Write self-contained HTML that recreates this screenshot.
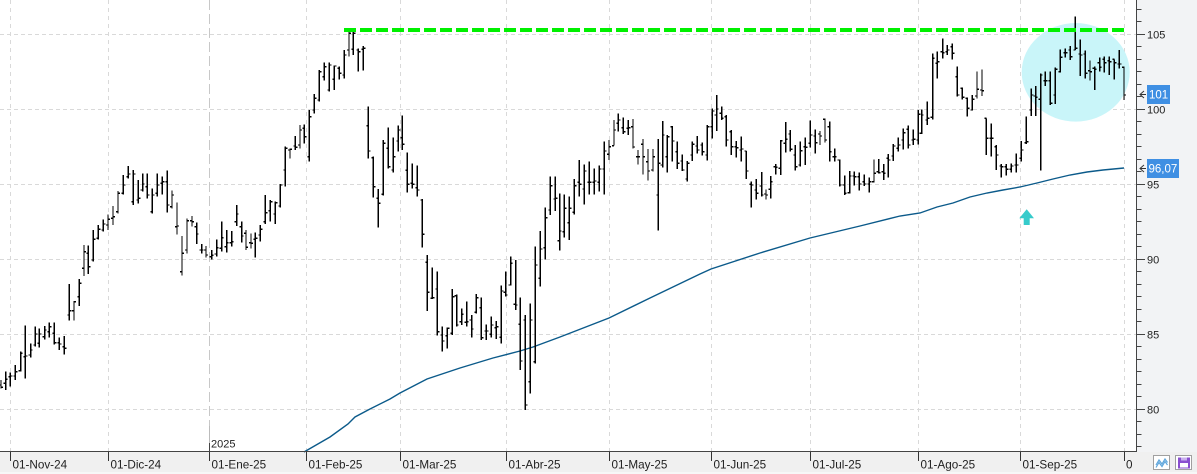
<!DOCTYPE html>
<html><head><meta charset="utf-8"><style>
html,body{margin:0;padding:0;background:#fff;}
svg{display:block;}
text{font-family:"Liberation Sans",sans-serif;}
</style></head><body>
<svg width="1197" height="474" viewBox="0 0 1197 474" xmlns="http://www.w3.org/2000/svg">
<rect x="0" y="0" width="1197" height="474" fill="#fff"/>
<!-- right panel -->
<rect x="1137" y="0" width="60" height="452" fill="#f2f3f5"/>
<!-- bottom strip -->
<rect x="0" y="452" width="1197" height="22" fill="#f0f0f0"/>
<rect x="0" y="472" width="1197" height="2" fill="#f7f7f7"/>

<!-- horizontal gridlines -->
<g stroke="#d9d9d9" stroke-width="1" stroke-dasharray="4 3" shape-rendering="crispEdges">
<path d="M0 34.5H1136M0 109.5H1136M0 184.5H1136M0 259.5H1136M0 334.5H1136M0 409.5H1136"/>
</g>
<!-- vertical gridlines -->
<g stroke="#d9d9d9" stroke-width="1" stroke-dasharray="4 4" shape-rendering="crispEdges">
<path d="M10.5 0V452M108.5 0V452M306.5 0V452M400.5 0V452M506.5 0V452M609.5 0V452M711.5 0V452M810.5 0V452M918.5 0V452M1020.5 0V452M1124.5 0V452"/>
</g>
<path d="M209.5 0V426" stroke="#c8c8c8" stroke-width="1" stroke-dasharray="10 4" shape-rendering="crispEdges"/>
<path d="M209.5 426V443" stroke="#bbbbbb" stroke-width="1" shape-rendering="crispEdges"/>
<path d="M209.5 443V452" stroke="#444" stroke-width="1" shape-rendering="crispEdges"/>
<text x="211" y="447.5" font-size="11" fill="#222">2025</text>

<!-- highlight circle -->
<ellipse cx="1075.7" cy="72.3" rx="54" ry="49.3" fill="#c9f5f9"/>

<!-- SMA -->
<polyline fill="none" stroke="#0b5a8a" stroke-width="1.4" points="304,452 330,437 348,424 355,417 370,409 390,399 400,393 427,379 460,368 493,358 520,351 533,347 560,337 609,318 650,298 700,274 711,269 760,253 810,238 860,226 900,216 920,213 937,207 953,203 970,197 987,193 1003,190 1020,187 1037,183 1053,179 1070,175 1087,172 1103,170 1124,168"/>

<!-- bars -->
<g fill="none" stroke="#000" stroke-width="4" shape-rendering="crispEdges">
<path transform="translate(0,150) scale(0.333333)" d="M3 690V715M-3 705H3M3 712H9M17 665V720M11 700H17M17 688H23M31 668V710M25 680H31M31 678H37M46 645V690M40 678H46M46 665H52M62 605V665M56 662H62M62 610H68M76 527V685M70 620H76M76 618H82M92 580V622M86 615H92M92 600H98M106 530V590M100 585H106M106 552H112M118 535V592M112 580H118M118 552H124M134 528V568M128 560H134M134 540H140M148 518V562M142 545H148M148 530H154M163 517V583M157 550H163M163 578H169M178 562V600M172 578H178M178 582H184M193 558V614M187 590H193M193 595H199M208 402V512M202 495H208M208 482H214M222 453V512M216 482H222M222 455H228M238 387V468M232 440H238M238 400H244M252 285V378M246 355H252M252 305H258M265 287V372M259 310H265M265 350H271M280 240V335M274 330H280M280 268H286M295 225V268M289 265H295M295 238H301M310 208V245M304 240H310M310 222H316M324 194V240M318 225H324M324 208H330M339 168V225M333 205H339M339 200H345M354 123V190M348 185H354M354 130H360M370 75V133M364 130H370M370 105H376M385 48V85M379 80H385M385 72H391M400 60V165M394 155H400M400 72H406M415 90V160M409 150H415M415 145H421M428 70V125M422 120H428M428 102H434M442 70V145M436 110H442M442 135H448M457 115V190M451 185H457M457 135H463M472 70V140M466 130H472M472 105H478M487 80V133M481 100H487M487 95H493M502 62V187M496 95H502M502 165H508M516 122V176M510 170H516M516 135H522M531 157V253M525 230H531M531 228H537M546 258V376M540 365H546M546 310H552M561 205V310M555 300H561M561 212H567M576 198V230M570 212H576M576 215H582M590 218V282M584 230H590M590 252H596"/>
<path transform="translate(200,20) scale(0.333333)" d="M5 672V700M-1 690H5M5 690H11M18 678V712M12 690H18M18 705H24M35 690V718M29 710H35M35 706H41M50 658V710M44 702H50M50 683H56M65 605V695M59 685H65M65 653H71M80 630V698M74 680H80M80 668H86M95 633V680M89 668H95M95 665H101M110 555V618M104 605H110M110 582H116M125 605V668M119 620H125M125 648H131M138 630V690M132 640H138M138 682H144M153 640V685M147 668H153M153 670H159M166 638V712M160 658H166M166 655H172M181 615V665M175 645H181M181 628H187M196 525V612M190 605H196M196 578H202M211 540V605M205 572H211M211 545H217M226 545V612M220 582H226M226 548H232M241 492V562M235 558H241M241 495H247M256 380V500M250 450H256M256 385H262M270 385V415M264 390H270M270 388H276M286 348V390M280 378H286M286 382H292M300 315V385M294 375H300M300 330H306M313 313V370M307 325H313M313 350H319M328 270V425M322 410H328M328 290H334M343 222V280M337 270H343M343 235H349M358 150V245M352 240H358M358 155H364M373 128V182M367 170H373M373 140H379M388 128V215M382 210H388M388 135H394M403 136V210M397 178H403M403 138H409M418 140V178M412 145H418M418 160H424M433 90V175M427 165H433M433 105H439M447 35V110M441 90H447M447 40H453M460 35V105M454 88H460M460 40H466M475 85V155M469 90H475M475 95H481M490 78V152M484 88H490M490 85H496"/>
<path transform="translate(360,95) scale(0.333333)" d="M25 35V190M19 92H25M25 168H31M40 185V308M34 188H40M40 275H46M55 282V398M49 310H55M55 325H61M70 135V302M64 298H70M70 145H76M85 98V220M79 160H85M85 215H91M100 128V232M94 225H100M100 185H106M115 92V170M109 138H115M115 105H121M127 62V165M121 128H127M127 148H133M142 173V293M136 226H142M142 268H148M157 205V280M151 265H157M157 268H163M172 212V305M166 278H172M172 285H178M187 312V458M181 315H187M187 418H193M202 480V648M196 502H202M202 592H208M217 518V612M211 610H217M217 608H223M232 530V722M226 582H232M232 710H238M247 695V770M241 720H247M247 738H253M262 698V760M256 722H262M262 700H268M277 582V720M271 715H277M277 605H283M290 598V695M284 602H290M290 690H296M305 640V690M299 680H305M305 658H311M320 620V695M314 682H320M320 680H326M335 660V728M329 675H335M335 702H341M349 597V655M343 652H349M349 608H355M364 608V735M358 638H364M364 728H370M379 688V735M373 708H379M379 708H385M394 665V728M388 718H394M394 690H400M409 678V732M403 698H409M409 695H415M424 572V745M418 727H424M424 588H430M437 530V605M431 592H437M437 600H443M452 485V572M446 570H452M452 505H458M467 495V645M461 628H467M467 630H473M481 608V825M475 688H481M481 798H487M496 660V945M490 675H496M496 930H502M511 626V895M505 860H511M511 675H517M526 455V805M520 800H526M526 510H532M541 408V575M535 550H541M541 462H547M556 338V493M550 458H556M556 368H562M571 245V360M565 345H571M571 272H577M586 245V348M580 312H586M586 310H592M599 296V467M593 437H599M599 408H605M613 298V428M607 410H613M613 340H619M628 305V435M622 383H628M628 340H634M643 252V358M637 352H643M643 272H649M658 195V305M652 262H658M658 268H664M673 208V328M667 282H673M673 228H679M688 200V298M682 262H688M688 262H694M703 220V298M697 262H703M703 258H709M718 212V290M712 262H718M718 222H724M733 140V298M727 222H733M733 168H739"/>
<path transform="translate(605,85) scale(0.333333)" d="M12 165V225M6 208H12M12 185H18M27 105V182M21 182H27M27 135H33M40 85V140M34 115H40M40 105H46M55 97V147M49 128H55M55 140H61M70 105V150M64 130H70M70 128H76M84 102V190M78 125H84M84 186H90M99 195V238M93 215H99M99 215H105M114 162V268M108 178H114M114 215H120M129 192V287M123 230H129M129 258H135M144 192V260M138 255H144M144 215H150M160 162V437M154 330H160M160 235H166M173 108V248M167 240H173M173 150H179M187 150V262M181 215H187M187 155H193M202 123V230M196 125H202M202 168H208M217 170V252M211 200H217M217 235H223M232 208V258M226 228H232M232 255H238M247 228V290M241 282H247M247 235H253M262 170V228M256 210H262M262 178H268M277 153V205M271 183H277M277 195H283M292 172V212M286 180H292M292 200H298M307 120V226M301 210H307M307 125H313M322 70V160M316 125H322M322 78H328M335 30V138M329 90H335M335 72H341M350 65V105M344 85H350M350 100H356M364 90V185M358 95H364M364 165H370M379 135V210M373 140H379M379 185H385M394 168V217M388 185H394M394 188H400M409 155V230M403 195H409M409 192H415M424 198V282M418 198H424M424 258H430M439 290V368M433 298H439M439 300H445M454 282V343M448 315H454M454 325H460"/>
<path transform="translate(760,30) scale(0.333333)" d="M5 426V500M-1 468H5M5 495H11M18 478V508M12 492H18M18 495H24M32 438V505M26 478H32M32 455H38M47 402V434M41 410H47M47 412H53M62 330V435M56 415H62M62 332H68M77 276V368M71 340H77M77 328H83M91 300V365M85 312H91M91 358H97M106 345V422M100 375H106M106 410H112M121 335V410M115 405H121M121 362H127M136 322V405M130 350H136M136 352H142M151 272V352M145 340H151M151 315H157M166 298V370M160 318H166M166 338H172M180 303V345M174 312H180M180 318H186M195 265V338M189 268H195M195 330H201M209 275V395M203 290H209M209 365H215M224 355V395M218 380H224M224 380H230M239 388V470M233 390H239M239 465H245M254 437V495M248 465H254M254 490H260M269 423V490M263 488H269M269 438H275M283 425V467M277 438H283M283 440H289M298 427V482M292 440H298M298 462H304M313 433V468M307 455H313M313 462H319M328 442V488M322 462H328M328 455H334M342 388V458M336 455H342M342 430H348M356 387V430M350 425H356M356 428H362M371 402V450M365 425H371M371 430H377M385 372V442M379 385H385M385 390H391M400 342V393M394 378H400M400 348H406M415 322V365M409 355H415M415 345H421M430 296V358M424 330H430M430 308H436M445 287V355M439 298H445M445 345H451M460 298V345M454 330H460M460 328H466M475 240V343M469 330H475M475 253H481"/>
<path transform="translate(920,10) scale(0.333333)" d="M5 298V372M-1 370H5M5 315H11M22 275V345M16 330H22M22 325H28M38 130V328M32 322H38M38 145H44M52 125V205M46 160H52M52 155H58M68 85V145M62 125H68M68 128H74M82 105V135M76 125H82M82 120H88M97 100V148M91 110H97M97 130H103M112 170V260M106 200H112M112 255H118M127 232V268M121 235H127M127 262H133M142 262V320M136 265H142M142 295H148M157 255V302M151 300H157M157 268H163M171 185V265M165 258H171M171 238H177M186 178V258M180 240H186M186 242H192M199 325V435M193 325H199M199 385H205M214 340V440M208 385H214M214 385H220M229 405V480M223 410H229M229 435H235M244 462V502M238 468H244M244 470H250M259 462V496M253 470H259M259 478H265M274 460V488M268 478H274M274 468H280M289 430V488M283 465H289M289 465H295M304 393V455M298 445H304M304 420H310M319 320V402M313 398H319M319 395H325M334 235V318M328 300H334M334 255H340M347 228V318M341 258H347M347 262H353M362 190V482M356 268H362M362 195H368M376 185V228M370 212H376M376 212H382M391 185V285M385 212H391M391 280H397M406 172V282M400 255H406M406 178H412M421 118V188M415 185H421M421 142H427M436 115V142M430 128H436M436 128H442M451 108V150M445 120H451M451 140H457M466 20V120M460 120H466M466 115H472M481 88V198M475 132H481M481 135H487M496 122V205M490 132H496M496 190H502M510 152V212M504 182H510M510 185H516M524 170V240M518 175H524M524 178H530M539 142V185M533 158H539M539 172H545M553 140V188M547 148H553M553 158H559M568 140V195M562 152H568M568 155H574M583 148V208M577 148H583M583 158H589M598 120V175M592 162H598M598 162H604M612 170V270M606 172H612M612 255H618"/>
</g>

<!-- green resistance line -->
<path d="M344 30H1128" stroke="#00f000" stroke-width="4" stroke-dasharray="12 4"/>

<!-- teal arrow -->
<polygon points="1026.7,209.3 1034,218.3 1029.7,218.3 1029.7,225 1023.7,225 1023.7,218.3 1019.3,218.3" fill="#36cbcb"/>

<!-- axes -->
<path d="M0 451.5H1137" stroke="#444" stroke-width="1" shape-rendering="crispEdges"/>
<path d="M1136.5 0V452" stroke="#444" stroke-width="1" shape-rendering="crispEdges"/>
<!-- right axis ticks -->
<g stroke="#444" stroke-width="1" shape-rendering="crispEdges">
<path d="M1137 34.5H1145M1137 109.5H1145M1137 184.5H1145M1137 259.5H1145M1137 334.5H1145M1137 409.5H1145"/>
<path d="M1137 9.5H1141.5M1137 21.5H1141.5M1137 46.5H1141.5M1137 59.5H1141.5M1137 71.5H1141.5M1137 84.5H1141.5M1137 96.5H1141.5M1137 121.5H1141.5M1137 134.5H1141.5M1137 146.5H1141.5M1137 159.5H1141.5M1137 171.5H1141.5M1137 196.5H1141.5M1137 209.5H1141.5M1137 221.5H1141.5M1137 234.5H1141.5M1137 246.5H1141.5M1137 271.5H1141.5M1137 284.5H1141.5M1137 296.5H1141.5M1137 309.5H1141.5M1137 321.5H1141.5M1137 346.5H1141.5M1137 359.5H1141.5M1137 371.5H1141.5M1137 384.5H1141.5M1137 396.5H1141.5M1137 421.5H1141.5M1137 434.5H1141.5M1137 446.5H1141.5"/>
</g>
<g font-size="11" fill="#222">
<text x="1147" y="38.3">105</text>
<text x="1147" y="113.3">100</text>
<text x="1147" y="188.3">95</text>
<text x="1147" y="263.3">90</text>
<text x="1147" y="338.3">85</text>
<text x="1147" y="413.3">80</text>
</g>
<!-- price tags -->
<rect x="1147" y="85" width="23" height="19" fill="#3f8fe3"/>
<text x="1149" y="98.5" font-size="11.5" fill="#fff">101</text>
<path d="M1144 91L1140 94.5L1144 98M1140 94.5H1146" stroke="#333" stroke-width="1" fill="none"/>
<rect x="1147" y="159" width="32" height="19" fill="#3f8fe3"/>
<text x="1148.5" y="172.5" font-size="11.5" fill="#fff">96,07</text>
<path d="M1144 165L1140 168.5L1144 172M1140 168.5H1146" stroke="#333" stroke-width="1" fill="none"/>

<!-- bottom date ticks -->
<g stroke="#333" stroke-width="1" shape-rendering="crispEdges">
<path d="M10.5 452V461M108.5 452V461M209.5 452V461M306.5 452V461M400.5 452V461M506.5 452V461M609.5 452V461M711.5 452V461M810.5 452V461M918.5 452V461M1020.5 452V461M1124.5 452V461"/>
</g>
<g font-size="11.7" fill="#222">
<text x="12.5" y="468.5">01-Nov-24</text>
<text x="110.5" y="468.5">01-Dic-24</text>
<text x="211.5" y="468.5">01-Ene-25</text>
<text x="308.5" y="468.5">01-Feb-25</text>
<text x="402.5" y="468.5">01-Mar-25</text>
<text x="508.5" y="468.5">01-Abr-25</text>
<text x="611.5" y="468.5">01-May-25</text>
<text x="713.5" y="468.5">01-Jun-25</text>
<text x="812.5" y="468.5">01-Jul-25</text>
<text x="920.5" y="468.5">01-Ago-25</text>
<text x="1022.5" y="468.5">01-Sep-25</text>
<text x="1126" y="468.5">0</text>
</g>

<!-- buttons -->
<rect x="1153.5" y="455.5" width="16" height="14" fill="#fff" stroke="#a0a0a0"/>
<path d="M1156 465L1159 460L1162 464L1165 459L1167.5 462.5" stroke="#5fa6dc" stroke-width="1.2" fill="none"/>
<path d="M1156 467.5L1159 462.5L1162 466.5L1165 461.5L1167.5 465" stroke="#5fa6dc" stroke-width="1.2" fill="none"/>
<rect x="1175.5" y="455.5" width="16" height="14" fill="#fff" stroke="#a0a0a0"/>
<rect x="1178" y="457.5" width="12" height="11" fill="#8a4fd0"/>
<rect x="1180" y="463" width="8" height="4.5" fill="#fff"/>
<rect x="1181" y="457.5" width="6" height="3" fill="#c9b0ee"/>
</svg>
</body></html>
